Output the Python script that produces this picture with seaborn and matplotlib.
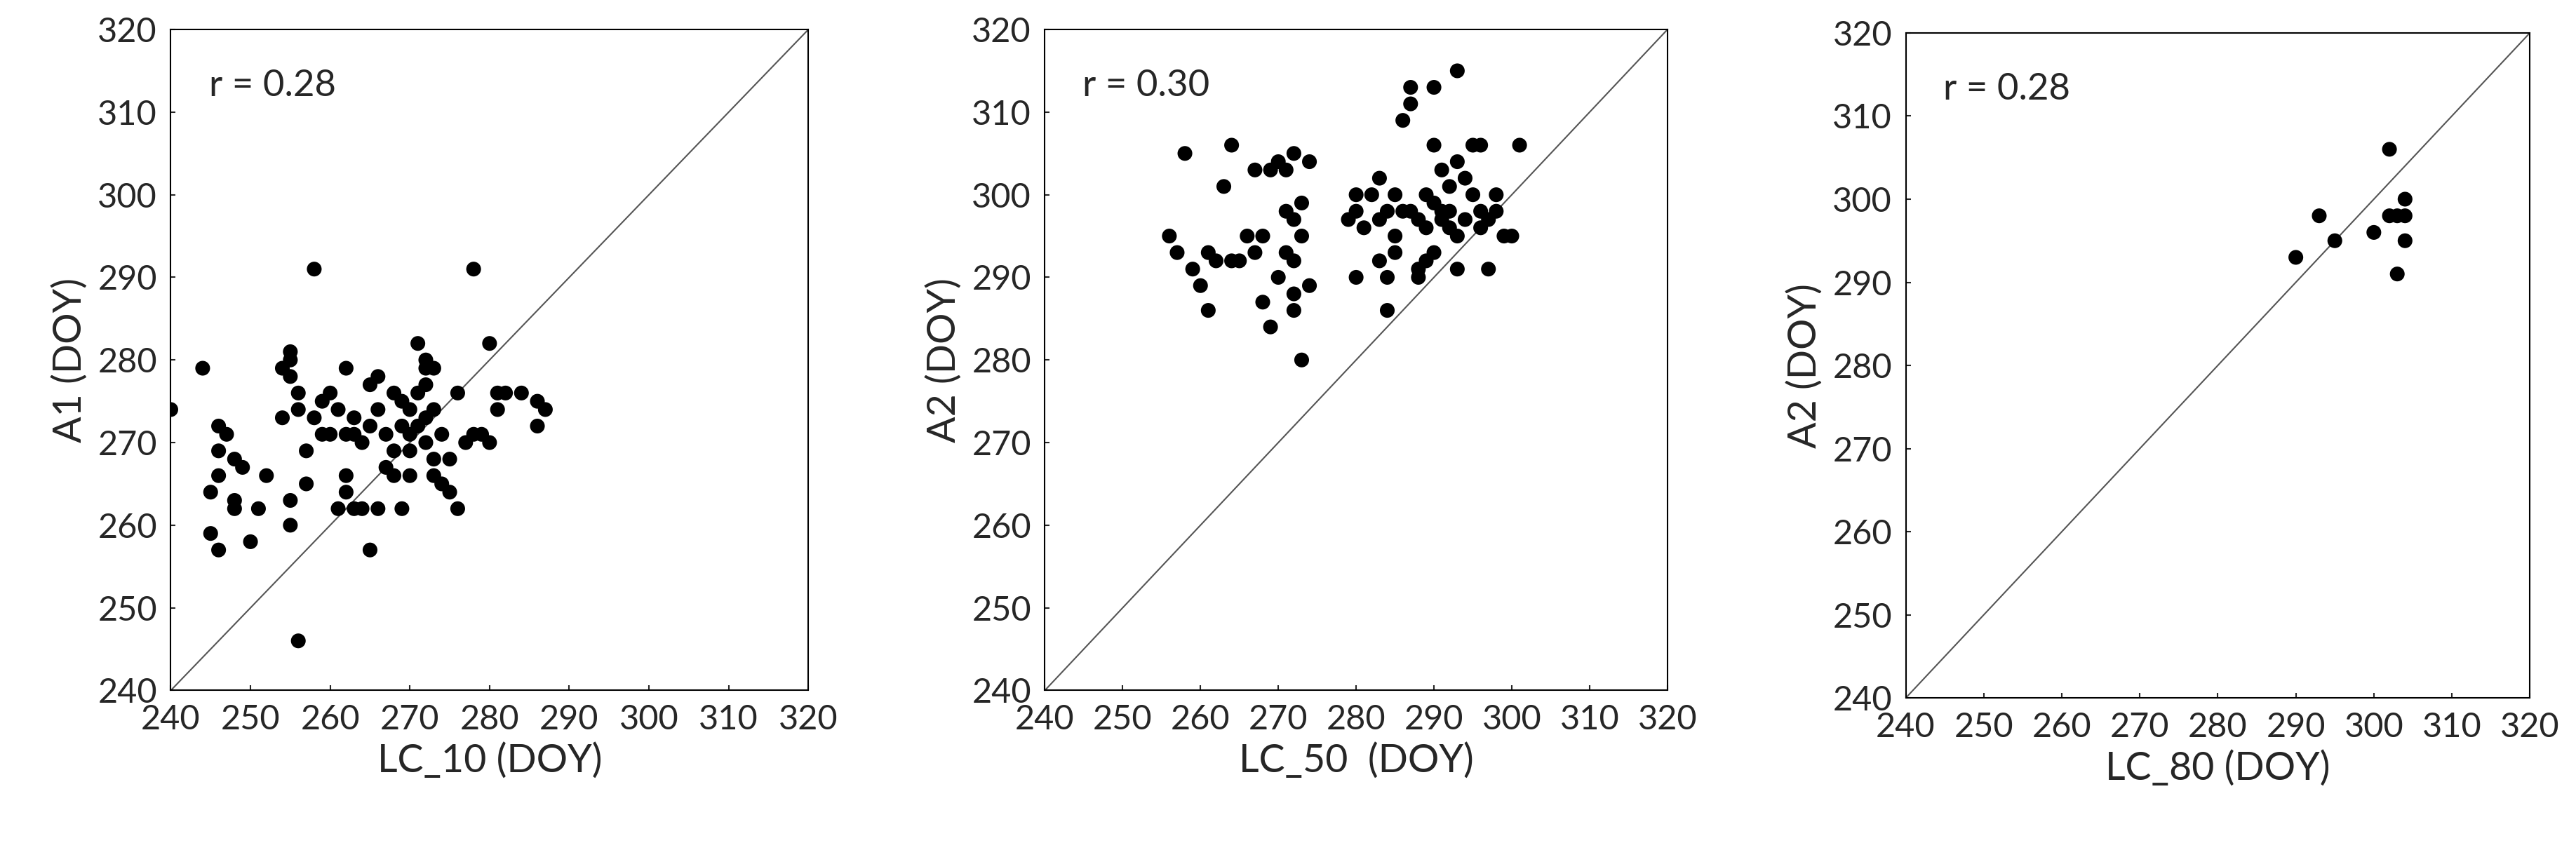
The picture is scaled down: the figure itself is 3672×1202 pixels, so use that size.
import numpy as np
import matplotlib
matplotlib.use("Agg")
import matplotlib.pyplot as plt
import seaborn as sns

# panel 1: LC_10 vs A1
lc10 = [240,244,245,245,246,246,246,246,247,248,248,248,249,250,251,252,254,254,255,255,255,255,255,256,256,256,257,257,258,258,259,259,260,260,261,261,262,262,262,262,263,263,264,264,265,265,265,266,266,267,267,268,268,268,269,269,269,270,270,270,270,271,271,271,272,272,272,272,272,273,273,273,273,274,274,275,275,276,276,277,278,278,279,280,280,281,281,282,284,286,286,287,266,263]
a1 = [274,279,264,259,272,269,266,257,271,268,263,262,267,258,262,266,273,279,280,281,278,263,260,246,274,276,269,265,291,273,275,271,276,271,262,274,279,271,266,264,262,273,262,270,272,277,257,278,274,271,267,276,269,266,275,272,262,274,271,269,266,282,276,272,280,279,277,273,270,268,274,279,266,265,271,264,268,276,262,270,291,271,271,282,270,274,276,276,276,272,275,274,262,271]

# panel 2: LC_50 vs A2
lc50 = [256,257,258,259,260,261,261,262,263,264,264,265,266,267,267,268,268,269,269,270,270,271,271,271,272,272,272,272,272,273,273,273,274,274,279,280,280,280,281,282,283,283,283,284,284,284,285,285,285,286,286,287,287,287,288,288,289,289,290,290,290,290,291,291,292,292,292,293,293,293,293,294,294,295,295,296,296,296,297,297,298,298,299,300,301,288,291,289]
a2_50 = [295,293,305,291,289,286,293,292,301,306,292,292,295,293,303,287,295,303,284,290,304,303,298,293,305,297,292,288,286,299,295,280,289,304,297,300,298,290,296,300,302,297,292,286,298,290,300,293,295,309,298,313,311,298,291,297,300,292,313,306,299,293,297,303,296,301,298,315,304,291,295,302,297,306,300,306,298,296,297,291,300,298,295,295,306,290,298,296]

# panel 3: LC_80 vs A2
lc80 = [290,293,295,300,302,302,303,303,304,304,304]
a2_80 = [293,298,295,296,306,298,291,298,300,295,298]

panels = [
    (lc10, a1, "LC_10 (DOY)", "A1 (DOY)", "r = 0.28", [0.0663, 0.181, 0.2475, 0.784]),
    (lc50, a2_50, "LC_50  (DOY)", "A2 (DOY)", "r = 0.30", [0.4056, 0.181, 0.2417, 0.784]),
    (lc80, a2_80, "LC_80 (DOY)", "A2 (DOY)", "r = 0.28", [0.7398, 0.172, 0.2423, 0.789]),
]

sns.set_style("white")
plt.rcParams["font.family"] = ["Lato", "DejaVu Sans"]

fig = plt.figure(figsize=(36.72, 12.02), dpi=100)
ticks = np.arange(240, 321, 10)
for x, y, xl, yl, rtxt, pos in panels:
    ax = fig.add_axes(pos)
    ax.plot([240, 320], [240, 320], color="#555555", lw=1.5, zorder=1)
    sns.scatterplot(x=x, y=y, ax=ax, color="black", s=230, edgecolor="none", zorder=2)
    ax.set_xlim(240, 320)
    ax.set_ylim(240, 320)
    ax.set_xticks(ticks)
    ax.set_yticks(ticks)
    ax.tick_params(labelsize=35, direction="in", length=5, width=1.5, pad=14,
                   left=True, bottom=True)
    ax.set_xlabel(xl, fontsize=40, labelpad=8)
    ax.set_ylabel(yl, fontsize=40, labelpad=10)
    for sp in ax.spines.values():
        sp.set_color("black")
        sp.set_linewidth(1.5)
    ax.text(0.06, 0.94, rtxt, transform=ax.transAxes, fontsize=38, va="top")

fig.savefig("out.png", dpi=100)
